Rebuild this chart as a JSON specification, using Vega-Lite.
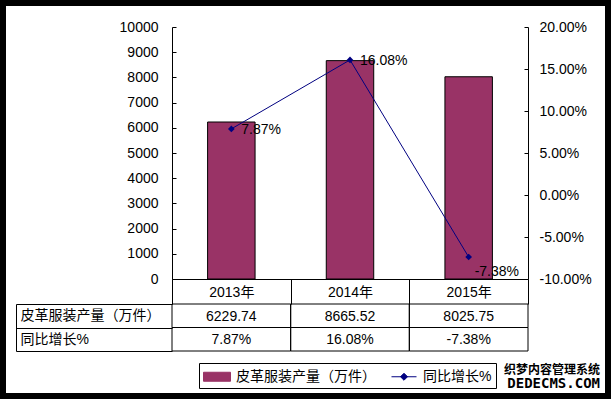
{
  "$schema": "https://vega.github.io/schema/vega-lite/v6.json",
  "width": 611,
  "height": 399,
  "autosize": {"type": "none"},
  "padding": 0,
  "background": "white",
  "config": {
    "locale": {"number": {"decimal": ".", "thousands": ",", "grouping": [3], "currency": ["$", ""], "minus": "-"}},
    "view": {"stroke": "black", "strokeWidth": 12, "fill": "white"},
    "font": "Liberation Sans, Noto Sans CJK SC",
    "axis": {"grid": false, "domainColor": "black", "tickColor": "black", "labelColor": "black", "labelFont": "Liberation Sans, Noto Sans CJK SC", "labelFontSize": 14, "labelFontWeight": "normal"},
    "text": {"font": "Liberation Sans, Noto Sans CJK SC", "fontSize": 14, "color": "black"}
  },
  "data": {
    "values": [
      {"year": "2013年", "production": 6229.74, "growth": 0.0787},
      {"year": "2014年", "production": 8665.52, "growth": 0.1608},
      {"year": "2015年", "production": 8025.75, "growth": -0.0738}
    ]
  },
  "title": {
    "text": "织梦内容管理系统",
    "subtitle": "DEDECMS.COM",
    "orient": "bottom",
    "anchor": "end",
    "frame": "group",
    "offset": -34,
    "dx": -11,
    "font": "Noto Sans CJK SC",
    "fontSize": 12,
    "fontWeight": "bold",
    "color": "black",
    "subtitleFont": "DejaVu Sans Mono",
    "subtitleFontSize": 14,
    "subtitleFontWeight": "bold",
    "subtitleColor": "black",
    "subtitlePadding": 0
  },
  "layer": [
    {
      "mark": {"type": "bar", "stroke": "black", "strokeWidth": 1, "width": {"band": 0.4}},
      "encoding": {
        "x": {
          "field": "year", "type": "nominal", "sort": null,
          "scale": {"range": [172, 528], "paddingInner": 0, "paddingOuter": 0},
          "axis": {"orient": "bottom", "offset": -120, "tickBand": "extent", "tickSize": 25, "labelPadding": -12, "labelBaseline": "middle", "labelAngle": 0, "title": null}
        },
        "y": {
          "field": "production", "type": "quantitative",
          "scale": {"domain": [0, 10000], "range": [279, 27], "nice": false},
          "axis": {"orient": "left", "offset": -172, "values": [0, 1000, 2000, 3000, 4000, 5000, 6000, 7000, 8000, 9000, 10000], "format": "d", "tickSize": -4, "labelPadding": 18, "title": null}
        },
        "color": {
          "datum": "皮革服装产量（万件）",
          "scale": {"domain": ["皮革服装产量（万件）", "同比增长%"], "range": ["#993366", "#000080"]},
          "legend": {
            "orient": "none", "legendX": 199, "legendY": 363, "direction": "horizontal", "title": null,
            "strokeColor": "black", "fillColor": "white", "padding": 4,
            "symbolSize": 324, "symbolOffset": 4.5, "labelOffset": 9.5, "columnPadding": 13,
            "symbolStrokeWidth": 1, "symbolOpacity": 1,
            "labelFontSize": 14, "labelColor": "black", "labelFont": "Liberation Sans, Noto Sans CJK SC"
          }
        }
      }
    },
    {
      "encoding": {
        "x": {"field": "year", "type": "nominal", "sort": null},
        "y": {
          "field": "growth", "type": "quantitative",
          "scale": {"domain": [-0.1, 0.2], "range": [279, 27], "nice": false, "zero": false},
          "axis": {"orient": "right", "offset": -83, "values": [-0.1, -0.05, 0, 0.05, 0.1, 0.15, 0.2], "format": ".2%", "tickSize": -4, "labelPadding": 15, "title": null}
        }
      },
      "layer": [
        {"mark": {"type": "line", "strokeWidth": 1}, "encoding": {"color": {"datum": "同比增长%"}}},
        {"mark": {"type": "point", "shape": "diamond", "filled": true, "size": 45, "opacity": 1}, "encoding": {"color": {"datum": "同比增长%"}}},
        {
          "mark": {"type": "point", "size": 0, "filled": true},
          "encoding": {
            "shape": {
              "datum": "同比增长%",
              "scale": {"domain": ["皮革服装产量（万件）", "同比增长%"], "range": ["M-1.5,-0.5H1.5V0.5H-1.5Z", "M-1.389,0H1.389M0,-0.389L0.389,0L0,0.389L-0.389,0Z"]},
              "legend": {"title": null}
            }
          }
        },
        {
          "transform": [{"filter": "datum.year !== '2015年'"}],
          "mark": {"type": "text", "align": "left", "baseline": "middle", "dx": 10, "dy": 1},
          "encoding": {"text": {"field": "growth", "type": "quantitative", "format": ".2%"}}
        },
        {
          "transform": [{"filter": "datum.year === '2015年'"}],
          "mark": {"type": "text", "align": "left", "baseline": "middle", "dx": 6, "dy": 15},
          "encoding": {"text": {"field": "growth", "type": "quantitative", "format": ".2%"}}
        }
      ]
    },
    {
      "layer": [
        {
          "mark": {"type": "rect", "fill": "white", "fillOpacity": 0, "stroke": "black", "strokeWidth": 1},
          "encoding": {
            "x": {"field": "year", "type": "nominal", "sort": null},
            "y": {
              "datum": "皮革服装产量（万件）", "type": "nominal",
              "scale": {"type": "band", "domain": ["皮革服装产量（万件）", "同比增长%"], "range": [304, 351], "paddingInner": 0, "paddingOuter": 0},
              "axis": {"orient": "left", "offset": -16, "tickBand": "extent", "tickSize": -156, "labelAlign": "left", "labelBaseline": "middle", "labelPadding": 152, "title": null}
            }
          }
        },
        {
          "mark": {"type": "rect", "fill": "white", "fillOpacity": 0, "stroke": "black", "strokeWidth": 1},
          "encoding": {
            "x": {"field": "year", "type": "nominal", "sort": null},
            "y": {"datum": "同比增长%", "type": "nominal"}
          }
        },
        {
          "mark": {"type": "text", "baseline": "middle", "dy": 1},
          "encoding": {
            "x": {"field": "year", "type": "nominal", "sort": null},
            "y": {"datum": "皮革服装产量（万件）", "type": "nominal"},
            "text": {"field": "production", "type": "quantitative", "format": ".2f"}
          }
        },
        {
          "mark": {"type": "text", "baseline": "middle", "dy": 1},
          "encoding": {
            "x": {"field": "year", "type": "nominal", "sort": null},
            "y": {"datum": "同比增长%", "type": "nominal"},
            "text": {"field": "growth", "type": "quantitative", "format": ".2%"}
          }
        }
      ]
    }
  ],
  "resolve": {"scale": {"y": "independent"}, "axis": {"y": "independent"}}
}
